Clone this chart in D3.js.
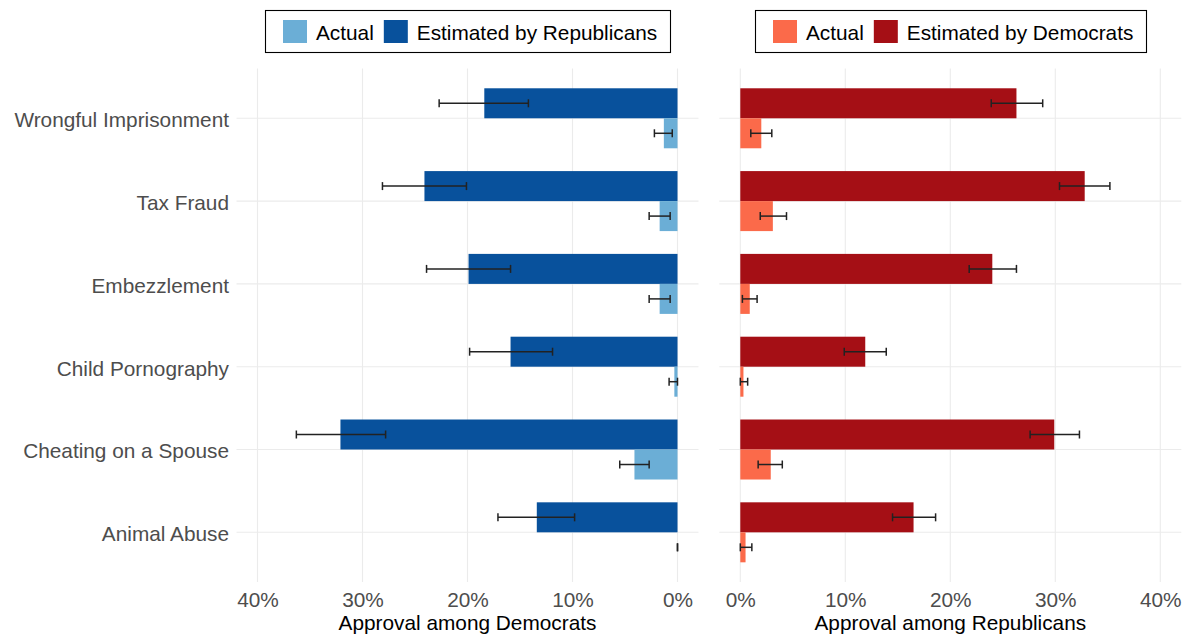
<!DOCTYPE html>
<html lang="en">
<head>
    <meta charset="UTF-8">
    <title>Approval estimates</title>
    <script src="https://cdnjs.cloudflare.com/ajax/libs/d3/7.8.5/d3.min.js"></script>
    <style>
        body{margin:0; background:#fff;}
        svg{display:block; font-family:"Liberation Sans", Arial, sans-serif;}
    </style>
</head>
<body>
    <svg id="chart" width="1187" height="637"></svg>
    <script>
        // categories, top to bottom
        var categories = ["Wrongful Imprisonment","Tax Fraud","Embezzlement","Child Pornography","Cheating on a Spouse","Animal Abuse"];

        // left panel: approval among Democrats (percent)
        var demActual   = [1.3, 1.7, 1.7, 0.3, 4.1, 0.0];
        var demActualLo = [0.5, 0.7, 0.7, 0.0, 2.7, 0.0];
        var demActualHi = [2.2, 2.7, 2.7, 0.8, 5.5, 0.0];
        var demEstByRep   = [18.4, 24.1, 19.9, 15.9, 32.1, 13.4];
        var demEstByRepLo = [14.2, 20.1, 15.9, 11.9, 27.8, 9.8];
        var demEstByRepHi = [22.7, 28.1, 23.9, 19.8, 36.3, 17.1];

        // right panel: approval among Republicans (percent)
        var repActual   = [2.0, 3.1, 0.9, 0.3, 2.9, 0.5];
        var repActualLo = [1.0, 1.9, 0.2, 0.0, 1.7, 0.0];
        var repActualHi = [3.0, 4.4, 1.6, 0.7, 4.0, 1.1];
        var repEstByDem   = [26.3, 32.8, 24.0, 11.9, 29.9, 16.5];
        var repEstByDemLo = [23.9, 30.4, 21.8, 9.9, 27.6, 14.5];
        var repEstByDemHi = [28.8, 35.2, 26.3, 13.9, 32.3, 18.6];

        var xTicks = [0, 10, 20, 30, 40];

        var svg = d3.select("#chart");
        var plotTop = 68.6, plotBottom = 582;
        var fontSize = 20.8;

        var y = d3.scalePoint().domain(categories).range([plotTop, plotBottom]).padding(0.6);
        var barH = 30;

        var panels = [
            {
                left: 236.5, right: 698.5,
                x: d3.scaleLinear().domain([0, 40]).range([677.5, 257.5]),
                title: "Approval among Democrats",
                actual: demActual, actualLo: demActualLo, actualHi: demActualHi,
                est: demEstByRep, estLo: demEstByRepLo, estHi: demEstByRepHi,
                actualColor: "#6baed6", estColor: "#08519c",
                legend: ["Actual", "Estimated by Republicans"],
                legendBox: [265, 670],
                yLabels: true
            },
            {
                left: 719.3, right: 1181.3,
                x: d3.scaleLinear().domain([0, 40]).range([740.3, 1160.3]),
                title: "Approval among Republicans",
                actual: repActual, actualLo: repActualLo, actualHi: repActualHi,
                est: repEstByDem, estLo: repEstByDemLo, estHi: repEstByDemHi,
                actualColor: "#fb6a4a", estColor: "#a50f15",
                legend: ["Actual", "Estimated by Democrats"],
                legendBox: [755, 1146],
                yLabels: false
            }
        ];

        panels.forEach(function(p){
            var g = svg.append("g");
            var x = p.x;

            // grid
            g.selectAll(".vgrid").data(xTicks).enter().append("line")
                .attr("x1", function(d){ return x(d); })
                .attr("x2", function(d){ return x(d); })
                .attr("y1", plotTop).attr("y2", plotBottom)
                .attr("stroke", "#ebebeb").attr("stroke-width", 1.1);
            g.selectAll(".hgrid").data(categories).enter().append("line")
                .attr("x1", p.left).attr("x2", p.right)
                .attr("y1", function(d){ return y(d); })
                .attr("y2", function(d){ return y(d); })
                .attr("stroke", "#ebebeb").attr("stroke-width", 1.1);

            // bars
            var rows = categories.map(function(c, i){
                return {cat: c, actual: p.actual[i], aLo: p.actualLo[i], aHi: p.actualHi[i],
                        est: p.est[i], eLo: p.estLo[i], eHi: p.estHi[i]};
            });

            g.selectAll(".est").data(rows).enter().append("rect")
                .attr("x", function(d){ return Math.min(x(0), x(d.est)); })
                .attr("width", function(d){ return Math.abs(x(d.est) - x(0)); })
                .attr("y", function(d){ return y(d.cat) - barH; })
                .attr("height", barH)
                .attr("fill", p.estColor);
            g.selectAll(".act").data(rows).enter().append("rect")
                .attr("x", function(d){ return Math.min(x(0), x(d.actual)); })
                .attr("width", function(d){ return Math.abs(x(d.actual) - x(0)); })
                .attr("y", function(d){ return y(d.cat); })
                .attr("height", barH)
                .attr("fill", p.actualColor);

            // error bars
            function errBars(lo, hi, off){
                var e = g.selectAll(null).data(rows).enter().append("g")
                    .attr("stroke", "#222").attr("stroke-width", 1.5);
                e.append("line")
                    .attr("x1", function(d){ return x(d[lo]); })
                    .attr("x2", function(d){ return x(d[hi]); })
                    .attr("y1", function(d){ return y(d.cat) + off; })
                    .attr("y2", function(d){ return y(d.cat) + off; });
                [lo, hi].forEach(function(k){
                    e.append("line")
                        .attr("x1", function(d){ return x(d[k]); })
                        .attr("x2", function(d){ return x(d[k]); })
                        .attr("y1", function(d){ return y(d.cat) + off - 4; })
                        .attr("y2", function(d){ return y(d.cat) + off + 4; });
                });
            }
            errBars("eLo", "eHi", -barH / 2);
            errBars("aLo", "aHi", barH / 2);

            // x axis
            var xAxis = g.append("g")
                .attr("transform", "translate(0," + plotBottom + ")")
                .call(d3.axisBottom(x).tickValues(xTicks).tickSize(0).tickPadding(0)
                    .tickFormat(function(d){ return d + "%"; }));
            xAxis.select(".domain").remove();
            xAxis.selectAll("text")
                .attr("dy", null).attr("y", 25)
                .attr("fill", "#4d4d4d")
                .style("font-size", fontSize + "px")
                .style("font-family", "Liberation Sans, Arial, sans-serif");

            g.append("text")
                .attr("x", (p.left + p.right) / 2).attr("y", 630)
                .attr("text-anchor", "middle")
                .attr("fill", "#000")
                .style("font-size", fontSize + "px")
                .text(p.title);

            // y labels
            if (p.yLabels) {
                var yAxis = g.append("g")
                    .attr("transform", "translate(" + p.left + ",0)")
                    .call(d3.axisLeft(y).tickSize(0).tickPadding(7.5));
                yAxis.select(".domain").remove();
                yAxis.selectAll("text")
                    .attr("dy", "0.4em")
                    .attr("fill", "#4d4d4d")
                    .style("font-size", fontSize + "px")
                    .style("font-family", "Liberation Sans, Arial, sans-serif");
            }

            // legend
            var lg = svg.append("g");
            lg.append("rect")
                .attr("x", p.legendBox[0] + 0.5).attr("y", 10.5)
                .attr("width", p.legendBox[1] - p.legendBox[0]).attr("height", 42)
                .attr("fill", "#fff").attr("stroke", "#000").attr("stroke-width", 1.1);
            var cx = p.legendBox[0] + 18;
            [p.actualColor, p.estColor].forEach(function(col, i){
                lg.append("rect")
                    .attr("x", cx).attr("y", 20)
                    .attr("width", 24).attr("height", 23)
                    .attr("fill", col);
                var t = lg.append("text")
                    .attr("x", cx + 33).attr("y", 39.5)
                    .attr("fill", "#000")
                    .style("font-size", fontSize + "px")
                    .text(p.legend[i]);
                cx = cx + 33 + t.node().getComputedTextLength() + 10;
            });
        });
    </script>
</body>
</html>
